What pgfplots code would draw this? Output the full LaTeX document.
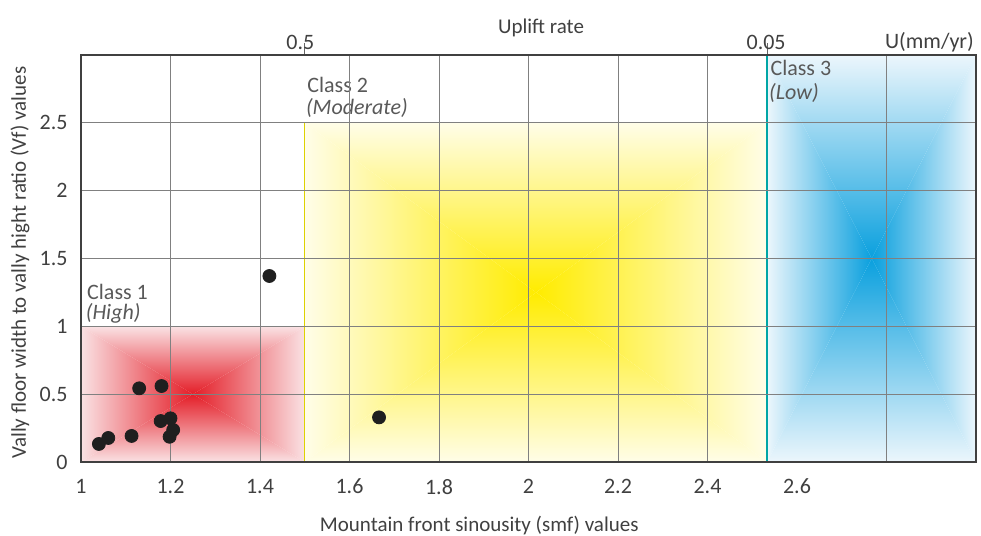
\documentclass[border=0pt]{standalone}
\usepackage{fontspec}
\setmainfont{Carlito}
\usepackage{pgfplots}
\pgfplotsset{compat=1.18}
\definecolor{redE}{RGB}{250,226,228}
\definecolor{redC}{RGB}{228,30,40}
\definecolor{yelE}{RGB}{255,253,232}
\definecolor{yelC}{RGB}{255,236,0}
\definecolor{bluE}{RGB}{236,246,252}
\definecolor{bluC}{RGB}{10,160,222}
\definecolor{txt}{RGB}{64,64,64}
\definecolor{cls}{RGB}{89,89,89}
% rectangle "from centre" shading: x1 y1 x2 y2 cx cy edge centre
\newcommand{\rectshade}[8]{%
  \shade[bottom color=#7, top color=#8] (axis cs:#1,#2) -- (axis cs:#3,#2) -- (axis cs:#5,#6) -- cycle;
  \shade[top color=#7, bottom color=#8] (axis cs:#1,#4) -- (axis cs:#3,#4) -- (axis cs:#5,#6) -- cycle;
  \shade[left color=#7, right color=#8] (axis cs:#1,#2) -- (axis cs:#1,#4) -- (axis cs:#5,#6) -- cycle;
  \shade[right color=#7, left color=#8] (axis cs:#3,#2) -- (axis cs:#3,#4) -- (axis cs:#5,#6) -- cycle;
}
\begin{document}
\begin{tikzpicture}
\begin{axis}[name=ax, at={(0,0)}, anchor=south west,
  width=447.5pt, height=203.5pt, scale only axis,
  xmin=1, xmax=3, ymin=0, ymax=3, clip=false, axis on top,
  axis line style={draw=black!75, line width=0.8pt},
  grid style={draw=black!50, line width=0.45pt},
  xmajorgrids, ymajorgrids,
  major tick length=0pt,
  tick label style={font=\fontsize{11}{13}\selectfont, text=txt},
  /pgf/number format/assume math mode=true,
  xtick={1,1.2,1.4,1.6,1.8,2,2.2,2.4,2.8},
  xticklabels={1,1.2,1.4,1.6,1.8,2,2.2,2.4,{}},
  extra x ticks={2.6}, extra x tick labels={2.6},
  extra x tick style={grid=none},
  ytick={0,0.5,1,1.5,2,2.5},
  yticklabels={0,0.5,1,1.5,2,2.5},
  xticklabel style={anchor=center, yshift=-12.3pt},
  yticklabel style={anchor=east, xshift=-3.2pt},
  xlabel={Mountain front sinousity (smf) values},
  ylabel={Vally floor width to vally hight ratio (Vf) values},
  title={Uplift rate},
  label style={font=\fontsize{10.5}{12}\selectfont, text=txt},
  xlabel style={at={(axis description cs:0.445,0)}, anchor=center, yshift=-32pt},
  ylabel style={at={(axis description cs:-0.0682,0.49)}, anchor=center},
  title style={at={(axis description cs:0.514,1)}, anchor=center, yshift=7.5pt, font=\fontsize{10.5}{12}\selectfont, text=txt},
]
% coloured class zones
\rectshade{1}{0}{1.5}{1}{1.25}{0.5}{redE}{redC}
\rectshade{1.5}{0}{2.533}{2.5}{2.017}{1.25}{yelE}{yelC}
\rectshade{2.533}{0}{3}{3}{2.767}{1.5}{bluE}{bluC}
% zone borders
\draw[black!45, line width=0.6pt] (axis cs:1,1) -- (axis cs:1.5,1) -- (axis cs:1.5,0);
\draw[yellow!70!olive, line width=0.6pt] (axis cs:1.5,0) -- (axis cs:1.5,2.5) -- (axis cs:2.533,2.5);
\draw[teal!70!cyan, line width=0.6pt] (axis cs:2.533,0) -- (axis cs:2.533,3);
% top "uplift rate" ticks
\draw[black!60, line width=0.5pt] (axis cs:1.5,3) -- (axis cs:1.5,3.09);
\draw[black!60, line width=0.5pt] (axis cs:2.533,3) -- (axis cs:2.533,3.09);
\node[font=\fontsize{11}{13}\selectfont, text=txt] at (axis cs:1.49,3) [yshift=6.5pt] {0.5};
\node[font=\fontsize{11}{13}\selectfont, text=txt] at (axis cs:2.531,3) [yshift=6.5pt] {0.05};
\node[font=\fontsize{11}{13}\selectfont, text=txt] at (axis cs:2.896,3) [yshift=6.5pt] {U(mm/yr)};
% class labels
\node[anchor=west, font=\fontsize{11}{13}\selectfont, text=cls, inner sep=0pt] at (axis cs:1.013,1.253) {Class 1};
\node[anchor=west, font=\fontsize{11}{13}\selectfont\itshape, text=cls, inner sep=0pt] at (axis cs:1.010,1.098) {(High)};
\node[anchor=west, font=\fontsize{11}{13}\selectfont, text=cls, inner sep=0pt] at (axis cs:1.505,2.778) {Class 2};
\node[anchor=west, font=\fontsize{11}{13}\selectfont\itshape, text=cls, inner sep=0pt] at (axis cs:1.502,2.609) {(Moderate)};
\node[anchor=west, font=\fontsize{11}{13}\selectfont, text=cls, inner sep=0pt] at (axis cs:2.540,2.903) {Class 3};
\node[anchor=west, font=\fontsize{11}{13}\selectfont\itshape, text=cls, inner sep=0pt] at (axis cs:2.537,2.719) {(Low)};
% data points
\addplot[only marks, mark=*, mark size=3.25pt, mark options={fill=black!88, draw=black!88}] coordinates {
 (1.130,0.543) (1.180,0.560) (1.040,0.133) (1.061,0.177) (1.113,0.192)
 (1.178,0.302) (1.200,0.322) (1.206,0.236) (1.198,0.186) (1.666,0.329)
 (1.421,1.371)
};
\end{axis}
\pgfresetboundingbox
\path[use as bounding box] ([shift={(-40.5pt,-37pt)}]ax.south west) rectangle ([shift={(2.5pt,27.5pt)}]ax.north east);
\end{tikzpicture}
\end{document}
